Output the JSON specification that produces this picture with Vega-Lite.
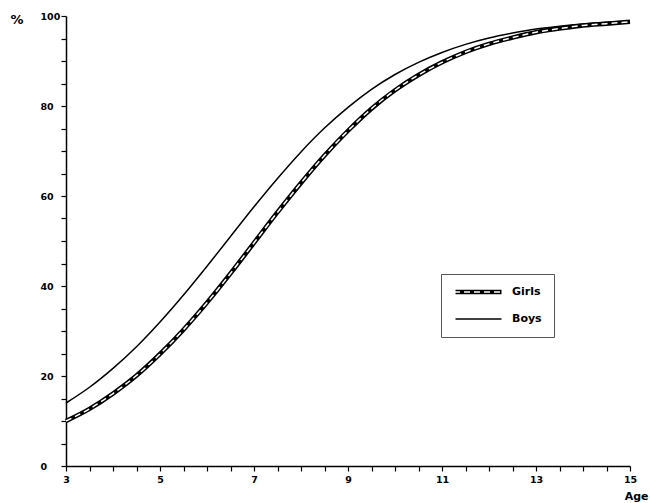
{
  "$schema": "https://vega.github.io/schema/vega-lite/v6.json",
  "width": 564,
  "height": 450,
  "autosize": {"type": "none"},
  "padding": {"left": 66, "top": 16, "right": 20, "bottom": 37},
  "background": "white",
  "config": {
    "view": {"stroke": null},
    "font": "DejaVu Sans",
    "axis": {
      "grid": false,
      "domainColor": "black",
      "domainWidth": 1.5,
      "tickColor": "black",
      "tickWidth": 1.2,
      "tickSize": 5,
      "labelFont": "DejaVu Sans",
      "labelFontWeight": "bold",
      "labelFontSize": 9.5,
      "labelColor": "black",
      "titleFont": "DejaVu Sans",
      "titleFontWeight": "bold",
      "titleColor": "black"
    }
  },
  "data": {
    "values": [
      {"age": 3, "series": "Boys", "value": 14.0},
      {"age": 3.5, "series": "Boys", "value": 17.5},
      {"age": 4, "series": "Boys", "value": 21.7},
      {"age": 4.5, "series": "Boys", "value": 26.5},
      {"age": 5, "series": "Boys", "value": 32.0},
      {"age": 5.5, "series": "Boys", "value": 38.0},
      {"age": 6, "series": "Boys", "value": 44.4},
      {"age": 6.5, "series": "Boys", "value": 51.0},
      {"age": 7, "series": "Boys", "value": 57.6},
      {"age": 7.5, "series": "Boys", "value": 63.9},
      {"age": 8, "series": "Boys", "value": 69.8},
      {"age": 8.5, "series": "Boys", "value": 75.1},
      {"age": 9, "series": "Boys", "value": 79.7},
      {"age": 9.5, "series": "Boys", "value": 83.7},
      {"age": 10, "series": "Boys", "value": 87.0},
      {"age": 10.5, "series": "Boys", "value": 89.7},
      {"age": 11, "series": "Boys", "value": 91.9},
      {"age": 11.5, "series": "Boys", "value": 93.7},
      {"age": 12, "series": "Boys", "value": 95.1},
      {"age": 12.5, "series": "Boys", "value": 96.2},
      {"age": 13, "series": "Boys", "value": 97.1},
      {"age": 13.5, "series": "Boys", "value": 97.7},
      {"age": 14, "series": "Boys", "value": 98.2},
      {"age": 14.5, "series": "Boys", "value": 98.6},
      {"age": 15, "series": "Boys", "value": 98.9},
      {"age": 3, "series": "Girls", "value": 10.0},
      {"age": 3.5, "series": "Girls", "value": 12.7},
      {"age": 4, "series": "Girls", "value": 16.1},
      {"age": 4.5, "series": "Girls", "value": 20.1},
      {"age": 5, "series": "Girls", "value": 24.9},
      {"age": 5.5, "series": "Girls", "value": 30.3},
      {"age": 6, "series": "Girls", "value": 36.3},
      {"age": 6.5, "series": "Girls", "value": 42.8},
      {"age": 7, "series": "Girls", "value": 49.6},
      {"age": 7.5, "series": "Girls", "value": 56.4},
      {"age": 8, "series": "Girls", "value": 62.9},
      {"age": 8.5, "series": "Girls", "value": 69.0},
      {"age": 9, "series": "Girls", "value": 74.5},
      {"age": 9.5, "series": "Girls", "value": 79.4},
      {"age": 10, "series": "Girls", "value": 83.5},
      {"age": 10.5, "series": "Girls", "value": 86.9},
      {"age": 11, "series": "Girls", "value": 89.7},
      {"age": 11.5, "series": "Girls", "value": 92.0},
      {"age": 12, "series": "Girls", "value": 93.8},
      {"age": 12.5, "series": "Girls", "value": 95.2},
      {"age": 13, "series": "Girls", "value": 96.4},
      {"age": 13.5, "series": "Girls", "value": 97.2},
      {"age": 14, "series": "Girls", "value": 97.9},
      {"age": 14.5, "series": "Girls", "value": 98.3},
      {"age": 15, "series": "Girls", "value": 98.7}
    ]
  },
  "encoding": {
    "x": {
      "field": "age",
      "type": "quantitative",
      "scale": {"domain": [3, 15], "nice": false, "zero": false},
      "axis": {
        "values": [3, 3.5, 4, 4.5, 5, 5.5, 6, 6.5, 7, 7.5, 8, 8.5, 9, 9.5, 10, 10.5, 11, 11.5, 12, 12.5, 13, 13.5, 14, 14.5, 15],
        "format": "~g",
        "labelExpr": "(datum.value - 3) % 2 == 0 ? datum.label : ''",
        "labelPadding": 3,
        "labelFlush": false,
        "labelOverlap": false,
        "title": "Age",
        "titleFontSize": 11,
        "titleAnchor": "end",
        "titleAlign": "right",
        "titleBaseline": "alphabetic",
        "titleX": 582,
        "titleY": 33
      }
    },
    "y": {
      "field": "value",
      "type": "quantitative",
      "scale": {"domain": [0, 100], "nice": false},
      "axis": {
        "values": [0, 5, 10, 15, 20, 25, 30, 35, 40, 45, 50, 55, 60, 65, 70, 75, 80, 85, 90, 95, 100],
        "labelExpr": "datum.value % 20 == 0 ? datum.label : ''",
        "labelAlign": "left",
        "labelBaseline": "middle",
        "labelPadding": 21,
        "labelOverlap": false,
        "title": "%",
        "titleFontSize": 13,
        "titleAngle": 0,
        "titleAlign": "left",
        "titleBaseline": "alphabetic",
        "titleX": -56,
        "titleY": 7
      }
    }
  },
  "layer": [
    {
      "mark": {"type": "line", "interpolate": "monotone"},
      "encoding": {
        "color": {
          "field": "series",
          "type": "nominal",
          "scale": {"domain": ["Girls", "Boys"], "range": ["black", "black"]},
          "legend": {
            "title": null,
            "orient": "none",
            "legendX": 375,
            "legendY": 258,
            "padding": 12,
            "strokeColor": "#555555",
            "symbolType": "stroke",
            "symbolSize": 2116,
            "clipHeight": 12,
            "rowPadding": 15,
            "labelOffset": 8,
            "labelFont": "DejaVu Sans",
            "labelFontWeight": "bold",
            "labelFontSize": 11,
            "labelColor": "black"
          }
        },
        "strokeWidth": {
          "field": "series",
          "type": "nominal",
          "scale": {"type": "ordinal", "domain": ["Girls", "Boys"], "range": [4.5, 1.5]},
          "legend": {
            "title": null,
            "orient": "none",
            "legendX": 375,
            "legendY": 258,
            "padding": 12,
            "strokeColor": "#555555",
            "symbolType": "stroke",
            "symbolSize": 2116,
            "clipHeight": 12,
            "rowPadding": 15,
            "labelOffset": 8,
            "labelFont": "DejaVu Sans",
            "labelFontWeight": "bold",
            "labelFontSize": 11,
            "labelColor": "black"
          }
        }
      }
    },
    {
      "transform": [{"filter": "datum.series == 'Girls'"}],
      "mark": {"type": "line", "interpolate": "monotone", "color": "white", "strokeWidth": 1.5},
      "encoding": {
        "strokeDash": {
          "field": "series",
          "type": "nominal",
          "scale": {"domain": ["Girls"], "range": [[6, 4]]},
          "legend": {
            "title": null,
            "orient": "none",
            "legendX": 375,
            "legendY": 258,
            "padding": 12,
            "symbolType": "stroke",
            "symbolSize": 2116,
            "symbolStrokeColor": "white",
            "symbolStrokeWidth": 1.5,
            "clipHeight": 12,
            "rowPadding": 15,
            "labelOffset": 8,
            "labelExpr": "''",
            "labelFontSize": 11
          }
        }
      }
    }
  ]
}
